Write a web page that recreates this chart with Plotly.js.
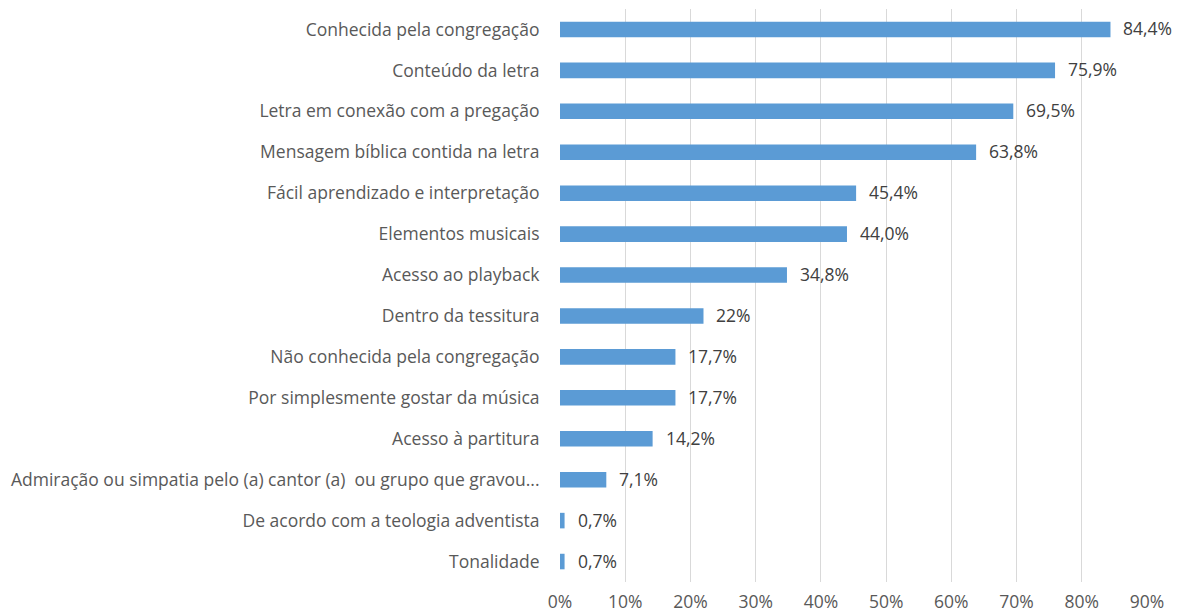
<!DOCTYPE html>
<html><head><meta charset="utf-8">
<script src="https://cdn.plot.ly/plotly-3.0.1.min.js"></script>
<style>html,body{margin:0;padding:0;background:#fff}#chart{width:1178px;height:614px}</style>
</head><body><div id="chart"></div>
<script>
const categories = [
  "Conhecida pela congregação",
  "Conteúdo da letra",
  "Letra em conexão com a pregação",
  "Mensagem bíblica contida na letra",
  "Fácil aprendizado e interpretação",
  "Elementos musicais",
  "Acesso ao playback",
  "Dentro da tessitura",
  "Não conhecida pela congregação",
  "Por simplesmente gostar da música",
  "Acesso à partitura",
  "Admiração ou simpatia pelo (a) cantor (a)  ou grupo que gravou...",
  "De acordo com a teologia adventista",
  "Tonalidade"
];
const values = [84.4, 75.9, 69.5, 63.8, 45.4, 44.0, 34.8, 22, 17.7, 17.7, 14.2, 7.1, 0.7, 0.7];
const valueLabels = ["84,4%", "75,9%", "69,5%", "63,8%", "45,4%", "44,0%", "34,8%", "22%", "17,7%", "17,7%", "14,2%", "7,1%", "0,7%", "0,7%"];
const tickVals = [0, 10, 20, 30, 40, 50, 60, 70, 80, 90];
const tickLabels = ["0%", "10%", "20%", "30%", "40%", "50%", "60%", "70%", "80%", "90%"];

const font = "'Open Sans', 'Noto Sans', sans-serif";
const fsize = 17.5;
const annotations = categories.map((c, i) => ({
  x: values[i], y: c, xref: 'x', yref: 'y',
  text: valueLabels[i], showarrow: false,
  xanchor: 'left', yanchor: 'middle', xshift: 11, yshift: 1,
  font: {family: font, size: fsize, color: '#404040'}
}));

Plotly.newPlot('chart', [{
  type: 'bar', orientation: 'h',
  y: categories, x: values,
  marker: {color: '#5B9BD5'},
  hoverinfo: 'none'
}], {
  width: 1178, height: 614,
  margin: {l: 560, r: 31, t: 9, b: 32},
  paper_bgcolor: '#fff', plot_bgcolor: '#fff',
  bargap: 0.62,
  showlegend: false,
  font: {family: font, size: fsize, color: '#595959'},
  annotations: annotations,
  xaxis: {
    range: [0, 90], tickvals: tickVals, ticktext: tickLabels,
    showgrid: true, gridcolor: '#d9d9d9', gridwidth: 1,
    zeroline: false, showline: false,
    ticks: 'outside', ticklen: 4, tickcolor: 'rgba(0,0,0,0)',
    tickfont: {family: font, size: fsize, color: '#595959'},
    fixedrange: true
  },
  yaxis: {
    autorange: 'reversed', type: 'category',
    showgrid: false, zeroline: false, showline: false,
    ticks: 'outside', ticklen: 16, tickcolor: 'rgba(0,0,0,0)',
    tickfont: {family: font, size: fsize, color: '#595959'},
    fixedrange: true
  }
}, {displayModeBar: false, staticPlot: true});
</script></body></html>
